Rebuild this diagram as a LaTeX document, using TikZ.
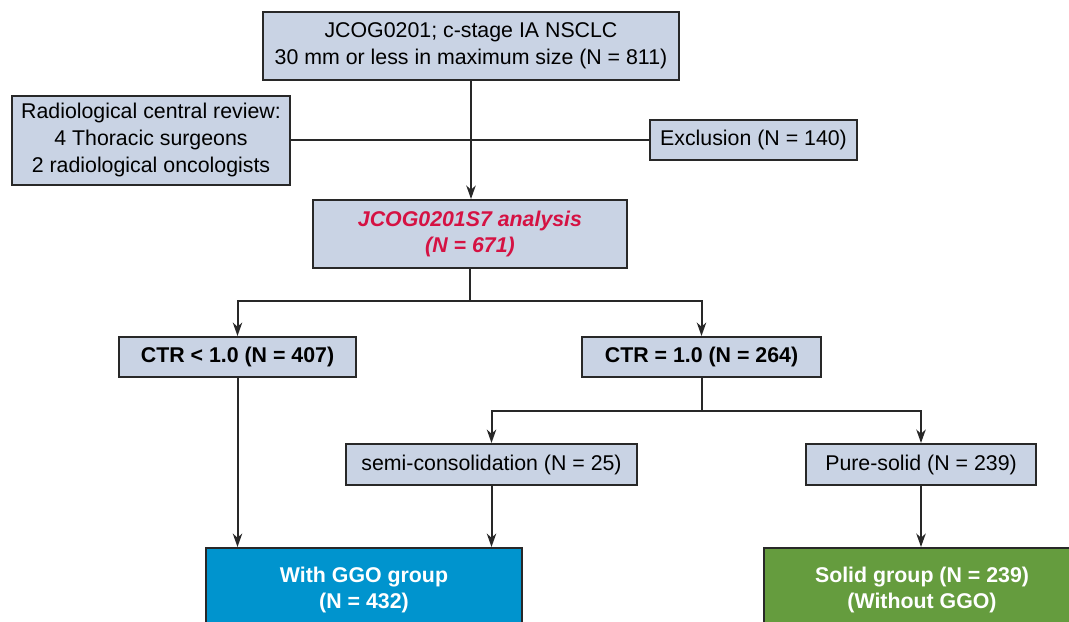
\documentclass[tikz,border=0pt]{standalone}
\usepackage{fontspec}
\setmainfont{Liberation Sans}
\usepackage{tikz}
\usetikzlibrary{arrows.meta}

\definecolor{boxfill}{RGB}{201,211,228}
\definecolor{boxline}{RGB}{40,40,40}
\definecolor{titlered}{RGB}{213,18,67}
\definecolor{ggoblue}{RGB}{0,148,206}
\definecolor{solidgreen}{RGB}{101,156,62}

\begin{document}
\begin{tikzpicture}[x=0.75pt, y=-0.75pt,
        box/.style={draw=boxline, line width=1.5pt, fill=boxfill, inner sep=0pt,
            align=center, font=\fontsize{16}{20}\selectfont},
        boldbox/.style={box, font=\fontsize{16}{20}\selectfont\bfseries},
        groupbox/.style={boldbox, text=white},
        arr/.style={line width=1.5pt, draw=boxline,
            -{Stealth[length=10pt, width=7pt, inset=3pt]}},
        plain/.style={line width=1.5pt, draw=boxline}]
        \useasboundingbox (0, 0) rectangle (1069, 621);

        % Draw the boxes
        \node[box, minimum width=312pt, minimum height=51pt] (cohort) at (471, 46)
            {JCOG0201; c-stage IA NSCLC\\30 mm or less in maximum size (N = 811)};
        \node[box, minimum width=208.5pt, minimum height=66.75pt] (review) at (151, 140)
            {Radiological central review:\\4 Thoracic surgeons\\2 radiological oncologists};
        \node[box, minimum width=155.25pt, minimum height=30pt] (exclusion) at (753.5, 140)
            {Exclusion (N = 140)};
        \node[boldbox, text=titlered, minimum width=235.5pt, minimum height=51pt] (analysis) at (470, 234)
            {\itshape JCOG0201S7 analysis\\\itshape (N = 671)};
        \node[boldbox, minimum width=177.75pt, minimum height=30pt] (ctrlow) at (237.5, 357)
            {CTR < 1.0 (N = 407)};
        \node[boldbox, minimum width=179.25pt, minimum height=30pt] (ctrone) at (701.5, 357)
            {CTR = 1.0 (N = 264)};
        \node[box, minimum width=218.25pt, minimum height=30.75pt] (semi) at (491.5, 464.5)
            {semi-consolidation (N = 25)};
        \node[box, minimum width=172.5pt, minimum height=30.75pt] (pure) at (921, 464.5)
            {Pure-solid (N = 239)};

        % Add the two groups
        \node[groupbox, fill=ggoblue, minimum width=237pt, minimum height=63pt] (ggo) at (364, 590)
            {With GGO group\\(N = 432)};
        \node[groupbox, fill=solidgreen, minimum width=237pt, minimum height=63pt] (solid) at (922, 590)
            {Solid group (N = 239)\\(Without GGO)};

        % Draw the connectors
        \draw[plain] (review.east) -- (exclusion.west);
        \draw[arr] (cohort.south) -- (cohort.south |- analysis.north);
        \draw[arr] (analysis.south) -- ++(0, 32) -| (ctrlow.north);
        \draw[arr] (analysis.south) -- ++(0, 32) -| (ctrone.north);
        \draw[arr] (ctrlow.south) -- (ctrlow.south |- ggo.north);
        \draw[arr] (ctrone.south) -- ++(0, 33) -| (semi.north);
        \draw[arr] (ctrone.south) -- ++(0, 33) -| (pure.north);
        \draw[arr] (semi.south) -- (semi.south |- ggo.north);
        \draw[arr] (pure.south) -- (pure.south |- solid.north);
    \end{tikzpicture}
\end{document}
